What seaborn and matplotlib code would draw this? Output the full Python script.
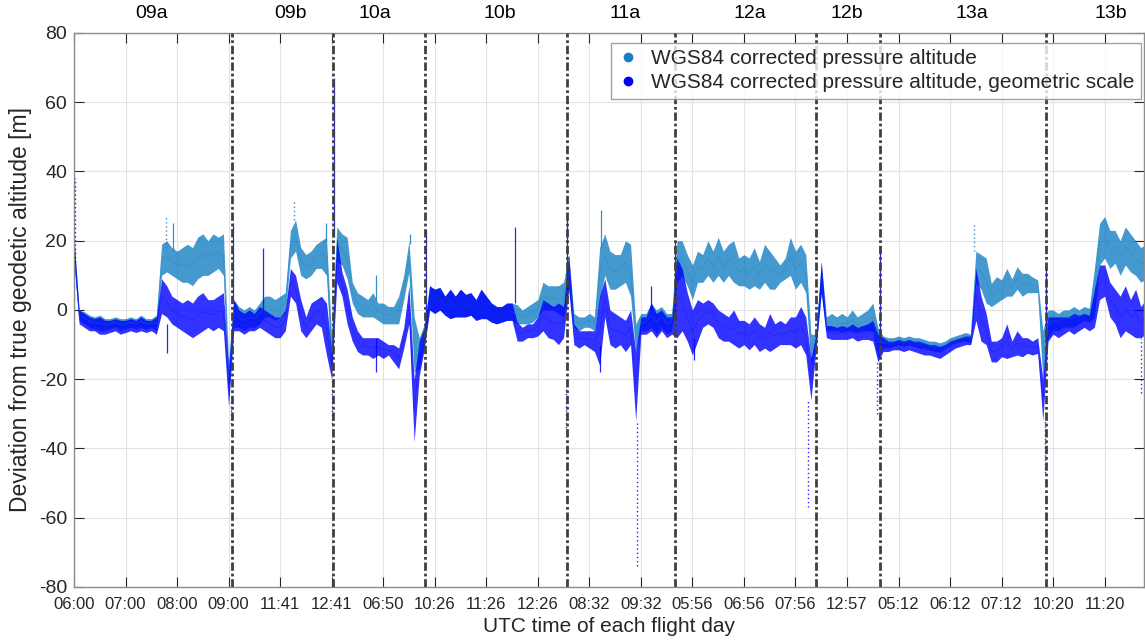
import matplotlib
matplotlib.use("Agg")
import matplotlib.pyplot as plt
from matplotlib.lines import Line2D
import numpy as np
import pandas as pd
import seaborn as sns

"""
Deviation of WGS84 corrected pressure altitude from true geodetic altitude,
all flights put one after the other on one time axis.
The dense samples are kept as min / max envelopes read every 6 minutes.
"""

# hours since 06:00 on the concatenated axis, one reading every 0.1 h
t_hours = np.round(np.arange(0, 20.85, 0.1), 1)

# light blue series: WGS84 corrected pressure altitude
lb_lo = [14, -3, -4, -5, -5.5, -6, -6, -5.5, -5, -6, -5.5, -5, -5.5, -5, -5.5, -5, -6,        # 09a
         10, 11, 10, 9, 8, 8, 7, 9, 10, 10, 11, 12, 10, -24,
         -5, -5, -6, -5, -5, -4, -2, -2, -3, -2, -1, 15, 17, 10, 9, 10, 12, 12, 10, -18,     # 09b
         14, 13, 9, 2, -1, -2, -2, -2, -3, -4, -4, -4, -4, 3, 11, -18, -17, -10,             # 10a
         0, -1, 0, -1.5, -2.5, -2, -2, -2, -1.5, -3, -2.5, -2.5, -3.5, -4, -3.5, -3, -3,    # 10b
         -4, -4, -4, -3.5, -2, 0, 0, 0, -1, -2,
         6, -5, -6, -5, -5, -6, 3, 10, 6, 6, 7, 8, 4, -12, -6, -6, -5, -7, -5, -7, -6,       # 11a
         8, 10, 7, 3, 8, 8, 10, 8, 10, 8, 10, 8, 7, 7, 6, 7, 6, 8, 6, 6, 8, 9, 10, 6, 8, 5,  # 12a
         -16,
         -11, 5, -6, -6, -6, -6.5, -6, -6, -6.5, -6, -6, -6, -14,                           # 12b
         -11, -11, -10.5, -10, -10.5, -10, -10.5, -11, -11, -11.5, -12, -12, -11, -10,       # 13a
         -9.5, -9, -9, -9.5, 8, 6, 2, 1, 2, 3, 4, 4, 6, 4, 5, 5, 5, -20,
         -8, -6, -6, -5, -5, -5, -4, -3, -3.5, -2, 13, 15, 12, 13.5, 10, 13, 11, 10, 8, 9]  # 13b
lb_hi = [20, 0, -0.5, -1.5, -2, -1.5, -2.5, -2.5, -2, -2.5, -2.5, -2, -2.5, -1.5, -2.5, -2.5, -1.5,
         19, 20, 18, 17, 18, 19, 18, 21, 22, 20, 22, 21, 22, -15,
         3, 1, 0, 1, 0, 2, 4, 4, 3, 4, 5, 23, 26, 18, 16, 17, 19, 20, 21, -8,
         24, 22, 21, 8, 5, 4, 3, 5, 2, 2, 1, 1, 4, 10, 20, -2, -8, -4,
         7, 6, 6.5, 4, 6, 4, 6, 4.5, 5, 3, 6, 4, 2, 1, 1, 2, 2,
         1.5, 0, 1, 2, 3, 8, 7, 7, 7, 8,
         16, -1, -2, -2, -1, -2, 18, 22, 17, 16, 16, 20, 19, -4, -1, -1, 2, 0, 1, -1, -1,
         20, 20, 16, 13, 17, 16, 20, 17, 21, 17, 19, 20, 15, 16, 15, 18, 14, 19, 17, 15, 13,
         15, 21, 17, 19, 16, -7,
         -7, 14, -2, -1, -2, -1, -2, 0, -2, -1, 0, 2, -5,
         -7.5, -8, -8, -7.5, -8, -7.5, -8, -8, -8.5, -9, -9, -9.5, -9, -8,
         -7.5, -7, -6.5, -7, 17, 16, 15, 7.7, 9.6, 8.7, 12, 9, 12.5, 10.6, 10.6, 9.5, 8.7, -6,
         0, 0, -1, 0, 0, 1, 0, 1, 0.5, 12, 25, 27, 23, 23, 20, 24, 22, 20, 18, 19]

# blue series: WGS84 corrected pressure altitude, geometric scale
bl_lo = [14, -4, -5, -6, -6, -7, -7, -6.5, -6, -7, -6.5, -6, -6.5, -6, -6.5, -6, -7,
         -1, -2, -4, -5, -6, -7, -8, -7, -6, -5, -6, -5, -6, -28,
         -6, -6, -7, -6, -6, -5, -6, -7, -8, -8, -6, 4, 2, -6, -8, -6, -4, -5, -13, -20,
         8, 4, -4, -9, -12, -13, -13, -14, -13, -14, -13, -15, -17, -11, -4, -38, -19, -11,
         0, -1, 0, -1.5, -2.5, -2, -2, -2, -1.5, -3, -2.5, -2.5, -3.5, -4, -3.5, -3, -3,
         -9, -9, -8, -8, -7.5, -6, -8, -8.5, -10, -8,
         6, -10, -11, -10, -11, -12, -16, -2, -10, -11, -10, -12, -10, -32, -7, -7, -6, -8, -6, -8, -7,
         -8, -6, -9, -13, -9, -5, -4, -5, -8, -9, -9, -10, -11, -10, -11.5, -10, -12, -11, -12,
         -11, -10, -10, -10, -11, -10, -13, -26,
         -11, 5, -8, -8.5, -8.5, -8.5, -8.5, -8, -9, -8.5, -8.5, -9, -15,
         -12, -12, -11.5, -11.5, -12, -11.5, -12, -12.5, -13, -13, -13.5, -14, -13, -12,
         -11, -10.5, -10, -10, -3, -9, -10, -15, -15, -13.5, -14, -13.5, -13, -13.5, -12.5, -13, -12.5, -32,
         -9, -7, -8, -7, -6, -7, -6, -5, -6, -5, 3, 4, -2, -4, -8, -6, -7, -8, -8, -7]
bl_hi = [21, 0, -1, -2, -2.5, -2, -3, -3, -2.5, -3, -3, -2.5, -3, -2, -3, -3, -2,
         9, 7, 4, 3, 2, 3, 2, 4, 5, 3, 3, 4, 5, -17,
         3, 0, -1, 0, -1, 1, 0, -1, -2, -2, 0, 12, 10, 3, -2, 2, 3, 4, 2, -12,
         21, 11, 6, -2, -6, -8, -8, -8, -8, -9, -10, -10, -11, -5, 7, -20, -9, -5,
         7, 6, 6.5, 4, 6, 4, 6, 4.5, 5, 3, 6, 4, 2, 1, 1, 2, 2,
         -3.5, -5, -4, -4, -2, 3, 2, 1, 2, 1,
         16, -4, -6, -6, -6, -6, 4, 9, 0, -1, -2, -3, 0, -12, -2, -2, 2, -1, 0, -2, -2,
         15, 12, 5, 0, 3, 2, 3, 2, 0, -1, -2, 0, -3, -3, -4, -2, -4, -5, -1, -4, -3,
         -4, -2, -2, 1, -2, -14,
         -7, 14, -4.5, -4.5, -5, -4.5, -5, -4, -5, -4.5, -4, -3, -7,
         -8, -9, -9, -8.5, -9, -8.5, -9, -9, -9.5, -10, -10, -10.5, -10, -9,
         -8.5, -8, -7.5, -7.5, 12, 4, -1, -9, -9, -8, -4, -9, -6, -8, -8, -9, -8, -20,
         -2, -2, -2, -2, -2, -1, -1.5, -1, -1.5, 6, 13, 13, 8, 6, 4, 7, 3, 6, 1, 3]

# short excursions that are narrower than one reading: time, from, to, series, dotted
spike_t = [0.02, 1.78, 1.80, 1.92, 3.04, 3.08, 3.67, 4.27, 4.90, 5.00, 5.04, 5.86, 5.86,
           6.53, 6.84, 8.56, 9.55, 9.57, 10.21, 10.22, 10.92, 11.20, 11.67, 12.03, 14.25,
           15.58, 15.64, 17.47, 18.84, 18.87, 20.70]
spike_lo = [14, 18, -12.5, 17, -33, 3, 0, 26, 20, -33, 21, -18, 3,
            19, -5, 2, -34, 6, -18, 18, -74, 0, -3, -14.5, -57,
            -30, -7, 17, -47, -9, -24]
spike_hi = [38, 27, -4, 25, -26, 25, 18, 31.7, 25, -20, 67, -8, 10,
            22, 23, 24, -22, 28, -10, 29, -32, 7, 20, -8, -26,
            -15, 18, 25, -32, 12.5, -8]
spike_series = ["bl", "lb", "bl", "lb", "bl", "bl", "bl", "lb", "lb", "bl", "bl", "bl", "lb",
                "lb", "bl", "bl", "bl", "bl", "bl", "lb", "bl", "bl", "bl", "bl", "bl",
                "bl", "bl", "lb", "bl", "bl", "bl"]
spike_dotted = [1, 1, 0, 0, 1, 0, 0, 1, 0, 1, 0, 0, 0,
                0, 0, 0, 1, 0, 0, 0, 1, 0, 0, 0, 1,
                1, 0, 1, 1, 0, 1]

# flight segments
seg_names = ["09a", "09b", "10a", "10b", "11a", "12a", "12b", "13a", "13b"]
seg_label_t = [1.51, 4.21, 5.84, 8.26, 10.69, 13.11, 15.0, 17.42, 20.12]
seg_bounds = [3.06, 5.03, 6.82, 9.56, 11.66, 14.39, 15.64, 18.87]

# ticks every hour of the concatenated axis, labelled with local UTC time
tick_labels = ["06:00", "07:00", "08:00", "09:00", "11:41", "12:41", "06:50", "10:26",
               "11:26", "12:26", "08:32", "09:32", "05:56", "06:56", "07:56", "12:57",
               "05:12", "06:12", "07:12", "10:20", "11:20"]

LB = "WGS84 corrected pressure altitude"
BL = "WGS84 corrected pressure altitude, geometric scale"
colors = {LB: "#1580c4", BL: "#0000FF"}

for arr in (lb_lo, lb_hi, bl_lo, bl_hi):
    assert len(arr) == len(t_hours), len(arr)

sns.set_style("ticks")
plt.rcParams["font.family"] = ["Liberation Sans", "DejaVu Sans"]
plt.rcParams["axes.unicode_minus"] = False

df = pd.concat([
    pd.DataFrame({"t": t_hours, "dev": lb_lo, "series": LB}),
    pd.DataFrame({"t": t_hours, "dev": lb_hi, "series": LB}),
    pd.DataFrame({"t": t_hours, "dev": bl_lo, "series": BL}),
    pd.DataFrame({"t": t_hours, "dev": bl_hi, "series": BL}),
], ignore_index=True)

fig, ax = plt.subplots(figsize=(11.45, 6.43), dpi=100)
fig.subplots_adjust(left=0.0646, right=0.999, top=0.9487, bottom=0.0871)

sns.lineplot(data=df, x="t", y="dev", hue="series", hue_order=[LB, BL], palette=colors,
             estimator="mean", errorbar=lambda v: (v.min(), v.max()),
             linewidth=0.3, alpha=0.6, err_kws={"alpha": 0.8, "linewidth": 0},
             legend=False, ax=ax)

# narrow spikes
sp = pd.DataFrame({"t": spike_t, "lo": spike_lo, "hi": spike_hi,
                   "s": spike_series, "dot": spike_dotted})
for (s, dot), g in sp.groupby(["s", "dot"]):
    ax.vlines(g["t"], g["lo"], g["hi"], colors=colors[LB if s == "lb" else BL],
              linewidth=1.0 if dot else 0.9, alpha=0.85,
              linestyles=(0, (1, 2)) if dot else "solid", zorder=3)

# segment separators and names
for b in seg_bounds:
    ax.axvline(b, color="#404040", linewidth=2, linestyle=(0, (3, 1, 1, 1)), zorder=4)
for name, x in zip(seg_names, seg_label_t):
    ax.text(x, 1.036, name, transform=ax.get_xaxis_transform(), ha="center", va="center",
            fontsize=14, color="black")

ax.set_xlim(0, 20.76)
ax.set_ylim(-80, 80)
ax.set_xticks(range(len(tick_labels)))
ax.set_xticklabels(tick_labels)
ax.set_yticks(range(-80, 81, 20))
ax.grid(True, color="#e3e3e3", linewidth=0.8)
ax.set_axisbelow(True)
ax.tick_params(axis="x", labelsize=12, direction="in", length=7, top=True, pad=7,
               colors="#262626")
ax.tick_params(axis="y", labelsize=14, direction="in", length=7, right=True, pad=5,
               colors="#262626")
for side in ax.spines.values():
    side.set_visible(True)
    side.set_color("#8c8c8c")
    side.set_linewidth(1)

ax.set_xlabel("UTC time of each flight day", fontsize=15, color="#262626")
ax.set_ylabel("Deviation from true geodetic altitude [m]", fontsize=16.5, color="#262626")
ax.xaxis.set_label_coords(0.5, -0.054)
ax.yaxis.set_label_coords(-0.039, 0.5)

handles = [Line2D([], [], marker="o", linestyle="none", markersize=6,
                  markerfacecolor=colors[k], markeredgecolor=colors[k]) for k in (LB, BL)]
leg = ax.legend(handles, [LB, BL], loc="upper right", bbox_to_anchor=(0.997, 0.982),
                borderaxespad=0, fontsize=15, frameon=True, fancybox=False,
                handlelength=1.0, handletextpad=0.6, labelspacing=0.25, borderpad=0.3)
leg.get_frame().set_edgecolor("#8c8c8c")
leg.get_frame().set_linewidth(1)

fig.savefig("out.png", dpi=100)
